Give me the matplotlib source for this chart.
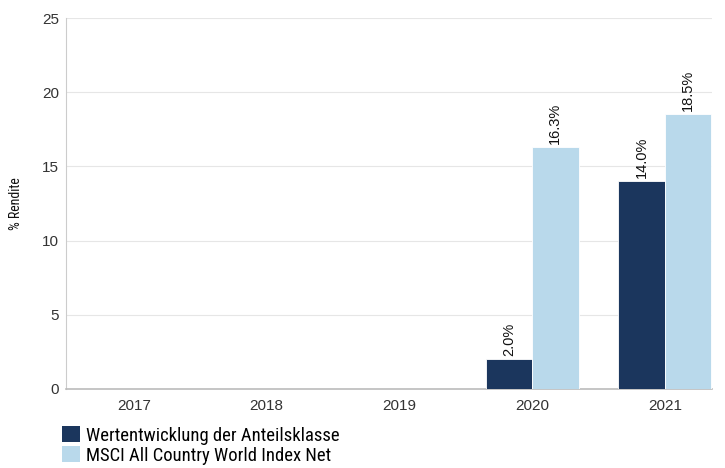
import matplotlib
matplotlib.use("Agg")
import matplotlib.pyplot as plt
import numpy as np
from matplotlib.patches import Patch
from matplotlib import font_manager as fm

years = ["2017", "2018", "2019", "2020", "2021"]
fund = [np.nan, np.nan, np.nan, 2.0, 14.0]
index = [np.nan, np.nan, np.nan, 16.3, 18.5]
labels = ["Wertentwicklung der Anteilsklasse", "MSCI All Country World Index Net"]
colors = ["#1b365d", "#b9d9eb"]

names = sorted({f.name for f in fm.fontManager.ttflist})
narrow = None
for cand in ["Liberation Sans Narrow", "Roboto Condensed", "Open Sans Condensed", "DejaVu Sans Condensed"]:
    if cand in names:
        narrow = cand
        break

plt.rcParams['font.family'] = ['Liberation Sans', 'DejaVu Sans']
fig = plt.figure(figsize=(7.25, 4.68), dpi=100)
ax = fig.add_axes([66/725, 1-389/468, (712-66)/725, (389-18)/468])

x = np.arange(len(years))
w = 0.35
for vals, off, c in [(fund, -w/2, colors[0]), (index, w/2, colors[1])]:
    ax.bar(x + off, vals, width=w, color=c, edgecolor="white", linewidth=0.6, zorder=3)
    for xi, v in zip(x, vals):
        if not np.isnan(v):
            ax.text(xi + off, v + 0.2, f"{v:.1f}%", rotation=90, ha="center", va="bottom",
                    fontsize=10.5, color="#111111", zorder=4)

ax.set_xlim(-0.51, 4.355)
ax.set_ylim(0, 25)
ax.set_yticks([0, 5, 10, 15, 20, 25])
ax.set_xticks(x)
ax.set_xticklabels(years)
ax.grid(axis="y", color="#e6e6e6", linewidth=0.8, zorder=0)
for s in ["top", "right"]:
    ax.spines[s].set_visible(False)
ax.spines["left"].set_color("#cccccc")
ax.spines["bottom"].set_color("#bbbbbb")
ax.spines["bottom"].set_linewidth(1.2)
ax.tick_params(axis="both", length=0, labelsize=11, colors="#333333")
ax.tick_params(axis="x", pad=7)
ax.tick_params(axis="y", pad=5)

if narrow:
    lab_font = dict(family=[narrow, 'DejaVu Sans'])
else:
    lab_font = dict(family=['DejaVu Sans'], stretch='condensed')
ax.set_ylabel("% Rendite", fontsize=10, labelpad=14, color="#111111", **lab_font)

handles = [Patch(facecolor=c, edgecolor="none") for c in colors]
prop = dict(size=13.4, **lab_font)
fig.legend(handles, labels, loc="upper left", bbox_to_anchor=(62/725, 1-426/468),
           frameon=False, handlelength=0.97, handleheight=0.97,
           handletextpad=0.33, labelspacing=0.08, borderaxespad=0, borderpad=0,
           prop=fm.FontProperties(**prop))

fig.savefig("out.png", dpi=100)
